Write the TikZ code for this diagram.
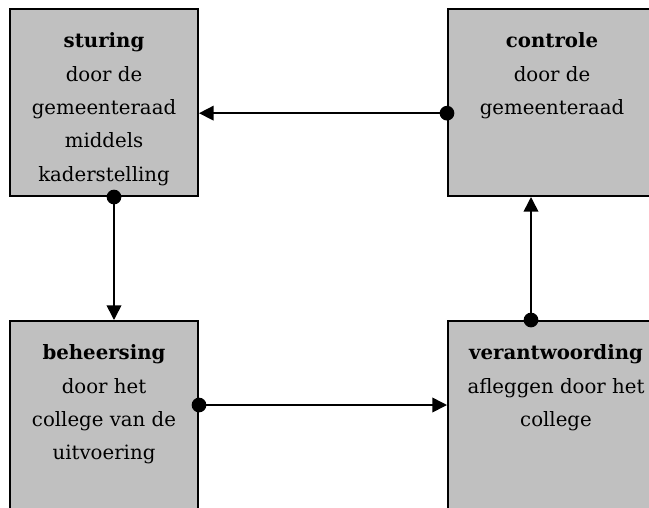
\documentclass[tikz,border=0pt]{standalone}
\usepackage{fontspec}
\setmainfont{DejaVu Serif}
\usetikzlibrary{positioning,arrows.meta}
\definecolor{boxgray}{RGB}{192,192,192}

\begin{document}
\begin{tikzpicture}[
    x=0.75pt, y=-0.75pt,
    box/.style={draw, fill=boxgray, line width=1.5pt, inner sep=0pt, anchor=north west},
    boxtext/.style={align=center, inner sep=0pt, font=\fontsize{14.8}{25}\selectfont},
    link/.style={line width=1.2pt, {Circle[length=11pt]}-{Triangle[length=11pt, width=11pt]}, shorten <=-5.5pt},
]

\useasboundingbox (0,0) rectangle (649,507);
\clip (0,0) rectangle (649,507);

% Boxes
\node[box, minimum width=141pt, minimum height=140.25pt] (stur) at (9,8) {};
\node[box, minimum width=156pt, minimum height=140.25pt] (contr) at (447,8) {};
\node[box, minimum width=141pt, minimum height=150pt] (beh) at (9,320) {};
\node[box, minimum width=156pt, minimum height=150pt] (verant) at (447,320) {};

% Texts
\node[boxtext, below=18.5pt of stur.north] (sturtxt) {\textbf{sturing}\\door de\\gemeenteraad\\middels\\kaderstelling};
\node[boxtext, below=18.5pt of contr.north] (contrtxt) {\textbf{controle}\\door de\\gemeenteraad};
\node[boxtext, below=18.5pt of beh.north] (behtxt) {\textbf{beheersing}\\door het\\college van de\\uitvoering};
\node[boxtext, below=18.5pt of verant.north, xshift=3pt] (veranttxt) {\textbf{verantwoording}\\afleggen door het\\college};

% Connectors
\draw[link] ([yshift=-8pt]contr.west) -- ([yshift=-8pt]stur.east);
\draw[link] ([xshift=7.5pt]stur.south) -- ([xshift=7.5pt]beh.north);
\draw[link] ([yshift=12pt]beh.east) -- ([yshift=12pt]verant.west);
\draw[link] ([xshift=-15.75pt]verant.north) -- ([xshift=-15.75pt]contr.south);

\end{tikzpicture}
\end{document}
